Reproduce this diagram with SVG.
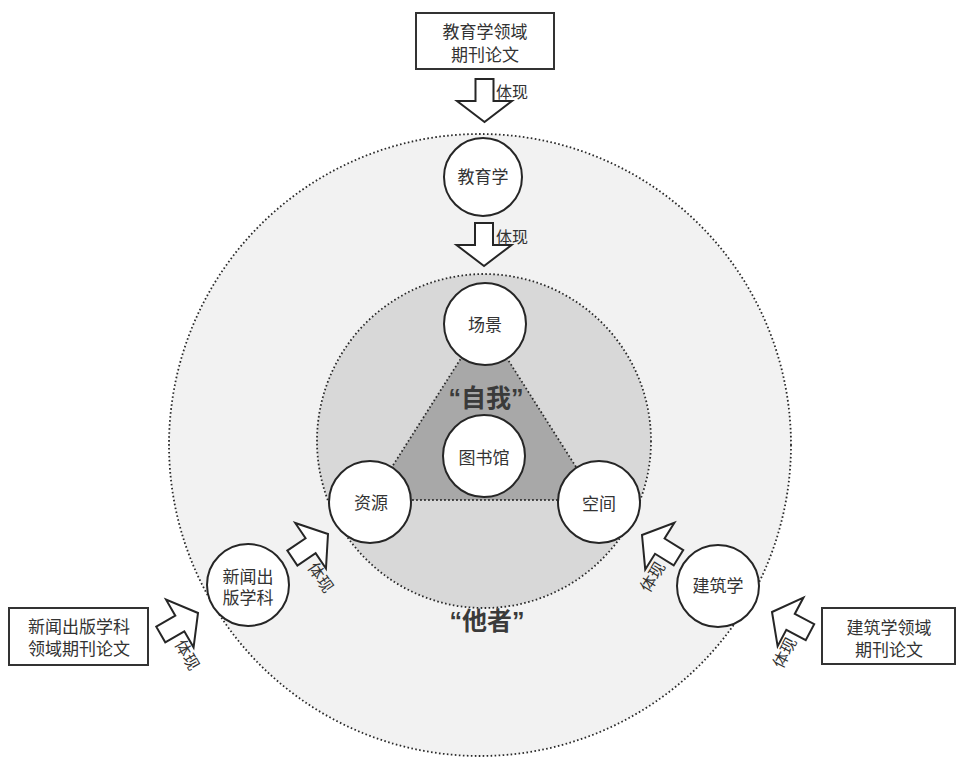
<svg xmlns="http://www.w3.org/2000/svg" width="957" height="757" viewBox="0 0 957 757">
<defs>
<style>
.t{font-family:"Noto Sans CJK SC","Noto Sans",sans-serif;fill:#333;font-size:17px;text-anchor:middle}
.lbl{font-family:"Noto Sans CJK SC","Noto Sans",sans-serif;fill:#333;font-size:16px}
.big{font-family:"Liberation Sans","Noto Sans CJK SC",sans-serif;font-weight:bold;font-size:25px;fill:#3a3a3a;text-anchor:middle}
.node{fill:#fff;stroke:#262626;stroke-width:2}
.box{fill:#fff;stroke:#333;stroke-width:2}
.dot{stroke:#2a2a2a;stroke-width:1.8;stroke-dasharray:1.6 2.4}
.arr{fill:#fff;stroke:#262626;stroke-width:2}
</style>
<path id="arrow" d="M0,0 L27.5,21 L9,21 L9,43 L-9,43 L-9,21 L-27.5,21 Z"/>
</defs>
<rect width="957" height="757" fill="#fff"/>
<g id="zones">
<circle cx="480" cy="445" r="311" fill="#f2f2f2" class="dot"/>
<circle cx="484" cy="441" r="167" fill="#d8d8d8" class="dot"/>
<polygon points="484,322 371,500 597,500" fill="#a8a8a8" class="dot"/>
<text class="big" x="486" y="407">“自我”</text>
<text class="big" x="487" y="630">“他者”</text>
</g>
<g id="connectors">
<use href="#arrow" class="arr" transform="translate(484.5,122) rotate(180)"/>
<text class="lbl" x="496" y="98">体现</text>
<use href="#arrow" class="arr" transform="translate(484,266) rotate(180)"/>
<text class="lbl" x="496" y="243">体现</text>
<g transform="translate(198,613) rotate(60)">
<use href="#arrow" class="arr"/>
<text class="lbl" x="31" y="36" text-anchor="middle">体现</text>
</g>
<g transform="translate(328,534) rotate(56)">
<use href="#arrow" class="arr"/>
<text class="lbl" x="32" y="36" text-anchor="middle">体现</text>
</g>
<g transform="translate(642,535) rotate(-58)">
<use href="#arrow" class="arr"/>
<text class="lbl" x="-30" y="37" text-anchor="middle">体现</text>
</g>
<g transform="translate(772,612) rotate(-62)">
<use href="#arrow" class="arr"/>
<text class="lbl" x="-30" y="36" text-anchor="middle">体现</text>
</g>
</g>
<g id="box-edu">
<rect class="box" x="416" y="13" width="138" height="56"/>
<text class="t" x="485" y="38">教育学领域</text>
<text class="t" x="485" y="61">期刊论文</text>
</g>
<g id="box-news">
<rect class="box" x="9" y="608" width="139" height="57"/>
<text class="t" x="79" y="633">新闻出版学科</text>
<text class="t" x="79" y="655">领域期刊论文</text>
</g>
<g id="box-arch">
<rect class="box" x="822" y="608" width="133" height="56"/>
<text class="t" x="889" y="634">建筑学领域</text>
<text class="t" x="889" y="656">期刊论文</text>
</g>
<g id="node-edu">
<circle class="node" cx="483" cy="177" r="39"/>
<text class="t" x="483" y="183">教育学</text>
</g>
<g id="node-scene">
<circle class="node" cx="485" cy="324" r="41"/>
<text class="t" x="485" y="331">场景</text>
</g>
<g id="node-library">
<circle class="node" cx="484" cy="456" r="41"/>
<text class="t" x="484" y="464">图书馆</text>
</g>
<g id="node-resource">
<circle class="node" cx="370" cy="502" r="41"/>
<text class="t" x="371" y="509">资源</text>
</g>
<g id="node-space">
<circle class="node" cx="599" cy="502" r="41"/>
<text class="t" x="599" y="510">空间</text>
</g>
<g id="node-news">
<circle class="node" cx="248" cy="585" r="41"/>
<text class="t" x="248" y="583">新闻出</text>
<text class="t" x="248" y="604">版学科</text>
</g>
<g id="node-arch">
<circle class="node" cx="718" cy="586" r="41"/>
<text class="t" x="718" y="592">建筑学</text>
</g>
</svg>
